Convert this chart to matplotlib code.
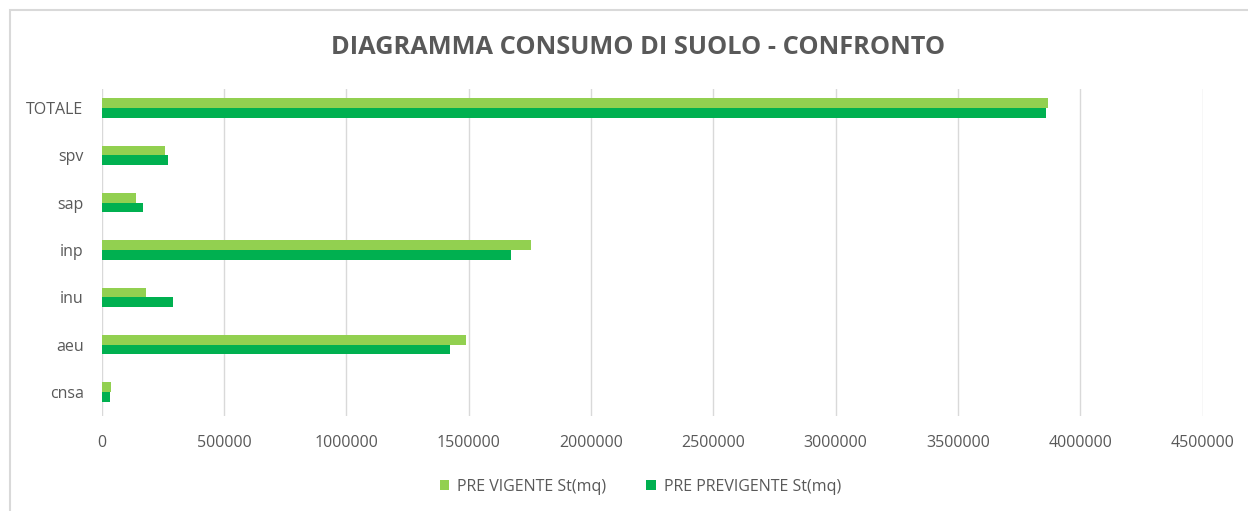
import matplotlib.pyplot as plt
from matplotlib.patches import Rectangle

categorie = ['cnsa', 'aeu', 'inu', 'inp', 'sap', 'spv', 'TOTALE']
pre_vigente = [39600, 1488000, 182600, 1753700, 142000, 257500, 3866000]
pre_previgente = [35500, 1425000, 291500, 1672000, 170000, 272000, 3861000]
x_ticks = [0, 500000, 1000000, 1500000, 2000000, 2500000, 3000000, 3500000, 4000000, 4500000]

chiaro = '#92D050'
scuro = '#00B050'
grigio = '#595959'

plt.rcParams['font.family'] = ['Open Sans', 'DejaVu Sans']

fig = plt.figure(figsize=(12.48, 5.11), dpi=100)
ax = fig.add_axes([0.0814, 0.1859, 0.8823, 0.6399])

# cornice grigia del grafico
fig.patches.append(Rectangle((10 / 1248, -0.1), 1.2, 1 - 10 / 511 + 0.1,
                             transform=fig.transFigure, fill=False,
                             edgecolor='#D9D9D9', linewidth=1.5))

y = list(range(len(categorie)))
h = 0.205
ax.barh([i + h / 2 for i in y], pre_vigente, height=h, color=chiaro,
        label='PRE VIGENTE St(mq)')
ax.barh([i - h / 2 for i in y], pre_previgente, height=h, color=scuro,
        label='PRE PREVIGENTE St(mq)')

ax.set_xlim(0, 4500000)
ax.set_ylim(-0.51, 6.40)
ax.set_xticks(x_ticks)
ax.set_xticklabels([str(v) for v in x_ticks])
ax.set_yticks(y)
ax.set_yticklabels(categorie)
ax.grid(axis='x', color='#D9D9D9', linewidth=1)
ax.set_axisbelow(True)
for s in ax.spines.values():
    s.set_visible(False)
ax.tick_params(axis='both', length=0, colors=grigio, labelsize=11.5)
ax.tick_params(axis='y', pad=13)
ax.tick_params(axis='x', pad=14)

fig.text(0.511, 0.908, 'DIAGRAMMA CONSUMO DI SUOLO - CONFRONTO',
         ha='center', va='center', fontsize=18.3, fontweight='bold', color=grigio,
         family=['Liberation Sans Narrow', 'Open Sans', 'DejaVu Sans'])

leg = fig.legend(loc='center', bbox_to_anchor=(0.513, 0.047), ncol=2, frameon=False,
                 fontsize=11.5, handlelength=0.6, handleheight=0.6,
                 columnspacing=2.5, handletextpad=0.5)
for t in leg.get_texts():
    t.set_color(grigio)

fig.savefig('out.png', dpi=100)
